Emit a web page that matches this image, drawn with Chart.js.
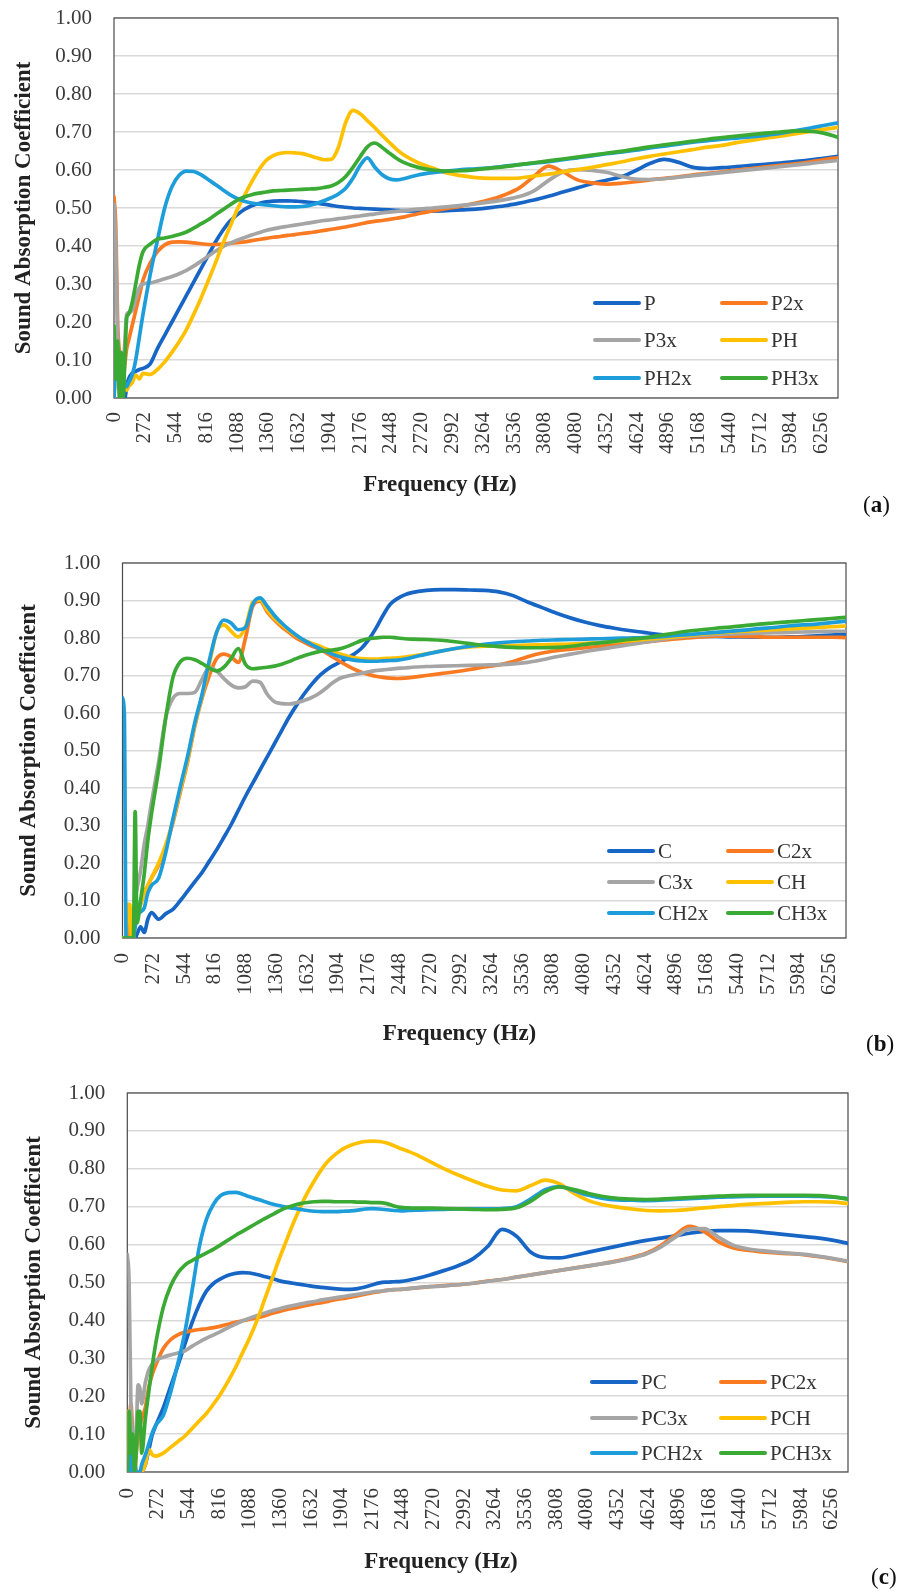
<!DOCTYPE html>
<html>
<head>
<meta charset="utf-8">
<script src="https://cdn.jsdelivr.net/npm/chart.js@4.4.1/dist/chart.umd.min.js"></script>
<style>
html,body{margin:0;padding:0;background:#fff;overflow:hidden;}
#page{position:relative;width:902px;height:1593px;overflow:hidden;background:#fff;}
#page canvas{position:absolute;left:0;}
.legend-item{position:absolute;height:24px;display:flex;align-items:center;font-family:"Liberation Serif","Times New Roman",serif;font-size:21px;color:#333;white-space:nowrap;line-height:24px;}
.legend-line{display:inline-block;width:48px;height:4px;border-radius:2px;margin-right:3px;}
.panel{position:absolute;font-family:"Liberation Serif","Times New Roman",serif;font-size:23px;line-height:26px;color:#111;}
</style>
</head>
<body>
<div id="page"></div>
<script>
// ---------- shared axes ----------
const frequencies = [
  0,16,32,48,64,80,96,112,128,160,192,224,256,
  320,384,448,512,576,640,704,768,832,896,960,1024,1088,1152,1216,1280,1344,1408,
  1472,1536,1600,1664,1728,1792,1856,1920,1984,2048,2112,2176,2240,2304,2368,2432,2496,2560,
  2688,2816,2944,3072,3200,3328,3456,3584,3712,3840,3968,4096,4224,4352,4480,4608,4736,4864,4992,5120,5248,5376,5504,5632,5760,5888,6016,6144,6272,6400
];
const xTickLabels = [0,272,544,816,1088,1360,1632,1904,2176,2448,2720,2992,3264,3536,3808,4080,4352,4624,4896,5168,5440,5712,5984,6256];
const yTickLabels = [0,0.1,0.2,0.3,0.4,0.5,0.6,0.7,0.8,0.9,1.0];

// ---------- panel (a) ----------
const namesA = ['P','P2x','P3x','PH','PH2x','PH3x'];
const P = [
  0,0.10,0.12,0.05,0.02,0.0,0.0,0.03,0.05,0.065,0.07,0.075,0.078,
  0.09,0.13,0.165,0.20,0.235,0.27,0.305,0.34,0.375,0.41,0.44,0.465,0.482,0.496,0.506,0.512,0.516,0.518,
  0.519,0.519,0.518,0.517,0.515,0.513,0.51,0.507,0.504,0.502,0.5,0.499,0.498,0.497,0.496,0.495,0.494,0.493,
  0.492,0.492,0.493,0.495,0.497,0.501,0.506,0.513,0.521,0.531,0.542,0.553,0.564,0.573,0.582,0.598,0.617,0.628,0.62,0.607,0.604,0.606,0.609,0.612,0.615,0.618,0.622,0.626,0.631,0.636
];
const P2x = [
  0.53,0.45,0.20,0.12,0.06,0.05,0.09,0.13,0.15,0.19,0.23,0.27,0.31,
  0.355,0.385,0.403,0.41,0.411,0.41,0.408,0.406,0.404,0.404,0.405,0.407,0.409,0.411,0.414,0.417,0.42,0.423,
  0.425,0.428,0.43,0.433,0.435,0.438,0.441,0.444,0.447,0.45,0.454,0.458,0.462,0.465,0.467,0.47,0.473,0.476,
  0.485,0.492,0.499,0.505,0.513,0.522,0.535,0.553,0.583,0.61,0.595,0.574,0.566,0.563,0.565,0.569,0.574,0.578,0.582,0.587,0.591,0.595,0.6,0.604,0.608,0.612,0.616,0.621,0.627,0.632
];
const P3x = [
  0.51,0.40,0.15,0.03,0.0,0.06,0.15,0.22,0.225,0.23,0.26,0.29,0.30,
  0.303,0.308,0.314,0.32,0.327,0.336,0.347,0.36,0.373,0.386,0.398,0.407,0.415,0.422,0.429,0.435,0.441,0.445,
  0.449,0.452,0.455,0.458,0.461,0.464,0.467,0.469,0.472,0.474,0.477,0.479,0.482,0.484,0.487,0.489,0.491,0.493,
  0.497,0.50,0.503,0.507,0.511,0.516,0.522,0.53,0.545,0.572,0.595,0.601,0.599,0.594,0.584,0.576,0.575,0.577,0.581,0.585,0.589,0.593,0.597,0.601,0.605,0.609,0.613,0.617,0.621,0.625
];
const PH = [
  0.0,0.12,0.10,0.03,0.0,0.02,0.03,0.02,0.03,0.04,0.06,0.05,0.065,
  0.062,0.075,0.095,0.12,0.148,0.18,0.22,0.262,0.308,0.355,0.405,0.45,0.495,0.532,0.568,0.6,0.625,0.638,
  0.644,0.646,0.645,0.643,0.638,0.632,0.627,0.628,0.66,0.725,0.757,0.748,0.73,0.712,0.692,0.673,0.655,0.64,
  0.619,0.605,0.592,0.585,0.58,0.578,0.578,0.579,0.584,0.589,0.595,0.601,0.607,0.614,0.621,0.629,0.636,0.642,0.648,0.654,0.66,0.665,0.672,0.678,0.684,0.689,0.695,0.701,0.707,0.712
];
const PH2x = [
  0.0,0.13,0.10,0.03,0.0,0.02,0.04,0.03,0.04,0.06,0.10,0.16,0.22,
  0.325,0.415,0.50,0.556,0.586,0.597,0.596,0.588,0.575,0.562,0.548,0.535,0.525,0.518,0.513,0.51,0.508,0.506,
  0.504,0.503,0.503,0.504,0.507,0.512,0.519,0.527,0.537,0.552,0.578,0.612,0.632,0.608,0.588,0.577,0.574,0.577,
  0.587,0.593,0.597,0.601,0.603,0.606,0.61,0.614,0.618,0.622,0.627,0.632,0.637,0.643,0.647,0.652,0.658,0.663,0.668,0.673,0.677,0.681,0.684,0.687,0.691,0.696,0.703,0.71,0.717,0.724
];
const PH3x = [
  0.19,0.05,0.15,0.0,0.12,0.0,0.10,0.21,0.22,0.25,0.30,0.35,0.385,
  0.405,0.418,0.421,0.425,0.43,0.437,0.447,0.458,0.469,0.482,0.495,0.508,0.52,0.529,0.535,0.539,0.542,0.545,
  0.546,0.547,0.548,0.549,0.55,0.551,0.554,0.558,0.567,0.583,0.607,0.635,0.661,0.671,0.66,0.645,0.631,0.62,
  0.607,0.6,0.597,0.598,0.601,0.605,0.609,0.614,0.619,0.624,0.629,0.634,0.639,0.644,0.649,0.655,0.661,0.666,0.671,0.676,0.681,0.685,0.689,0.693,0.697,0.7,0.703,0.702,0.697,0.686
];

// ---------- panel (b) ----------
const namesB = ['C','C2x','C3x','CH','CH2x','CH3x'];
const C = [
  0.0,0.0,0.0,0.0,0.0,0.0,0.0,0.0,0.01,0.03,0.015,0.05,0.068,
  0.05,0.065,0.077,0.10,0.125,0.15,0.175,0.205,0.235,0.268,0.302,0.34,0.378,0.413,0.448,0.483,0.518,0.553,
  0.588,0.619,0.648,0.673,0.695,0.712,0.725,0.735,0.745,0.757,0.772,0.795,0.825,0.86,0.89,0.905,0.915,0.921,
  0.927,0.929,0.929,0.928,0.927,0.923,0.913,0.896,0.881,0.866,0.853,0.842,0.833,0.826,0.82,0.815,0.81,0.807,0.805,0.804,0.804,0.803,0.803,0.802,0.802,0.803,0.804,0.806,0.808,0.81
];
const C2x = [
  0.0,0.0,0.0,0.0,0.05,0.0,0.0,0.04,0.06,0.09,0.12,0.14,0.16,
  0.195,0.245,0.31,0.39,0.47,0.565,0.64,0.70,0.745,0.757,0.75,0.735,0.80,0.885,0.898,0.87,0.848,0.83,
  0.815,0.80,0.79,0.78,0.772,0.762,0.75,0.738,0.727,0.717,0.709,0.703,0.698,0.695,0.693,0.692,0.693,0.695,
  0.70,0.705,0.71,0.716,0.723,0.728,0.737,0.75,0.76,0.766,0.77,0.774,0.778,0.781,0.785,0.789,0.793,0.797,0.80,0.803,0.805,0.805,0.804,0.803,0.802,0.802,0.802,0.802,0.802,0.801
];
const C3x = [
  0.0,0.0,0.0,0.0,0.0,0.0,0.05,0.10,0.13,0.18,0.25,0.30,0.36,
  0.47,0.59,0.64,0.652,0.652,0.655,0.69,0.722,0.712,0.692,0.675,0.667,0.67,0.685,0.682,0.65,0.63,0.625,
  0.624,0.627,0.633,0.64,0.65,0.664,0.68,0.692,0.698,0.702,0.706,0.71,0.713,0.715,0.717,0.719,0.72,0.722,
  0.724,0.725,0.726,0.727,0.728,0.729,0.731,0.735,0.742,0.75,0.757,0.764,0.77,0.776,0.782,0.788,0.794,0.80,0.804,0.807,0.809,0.811,0.812,0.813,0.814,0.815,0.816,0.817,0.818,0.818
];
const CH = [
  0.0,0.0,0.0,0.09,0.09,0.0,0.0,0.04,0.05,0.09,0.12,0.14,0.16,
  0.20,0.25,0.315,0.395,0.475,0.57,0.645,0.73,0.815,0.835,0.818,0.803,0.83,0.895,0.902,0.875,0.852,0.835,
  0.82,0.806,0.795,0.787,0.78,0.772,0.765,0.758,0.752,0.747,0.745,0.744,0.744,0.745,0.746,0.747,0.749,0.752,
  0.758,0.765,0.772,0.776,0.778,0.779,0.78,0.781,0.782,0.783,0.784,0.786,0.788,0.79,0.793,0.796,0.799,0.802,0.806,0.81,0.813,0.816,0.818,0.82,0.822,0.824,0.826,0.828,0.83,0.832
];
const CH2x = [
  0.64,0.60,0.0,0.0,0.0,0.0,0.0,0.03,0.06,0.07,0.08,0.12,0.14,
  0.16,0.23,0.32,0.405,0.485,0.575,0.65,0.74,0.815,0.848,0.84,0.822,0.828,0.89,0.907,0.885,0.86,0.84,
  0.823,0.808,0.795,0.784,0.774,0.765,0.757,0.75,0.745,0.741,0.739,0.738,0.738,0.739,0.74,0.741,0.744,0.748,
  0.757,0.765,0.772,0.778,0.783,0.787,0.79,0.792,0.794,0.795,0.796,0.797,0.798,0.799,0.80,0.801,0.803,0.806,0.809,0.812,0.815,0.818,0.821,0.825,0.828,0.832,0.835,0.837,0.841,0.845
];
const CH3x = [
  0.0,0.0,0.0,0.0,0.0,0.0,0.0,0.337,0.04,0.10,0.17,0.26,0.33,
  0.45,0.59,0.697,0.737,0.746,0.742,0.732,0.72,0.712,0.722,0.745,0.772,0.73,0.718,0.72,0.722,0.725,0.73,
  0.737,0.745,0.752,0.758,0.763,0.766,0.768,0.771,0.777,0.785,0.793,0.798,0.80,0.802,0.802,0.80,0.798,0.797,
  0.796,0.794,0.79,0.785,0.78,0.777,0.775,0.774,0.774,0.775,0.778,0.783,0.787,0.791,0.796,0.80,0.806,0.812,0.818,0.822,0.826,0.829,0.833,0.837,0.84,0.843,0.846,0.849,0.852,0.855
];

// ---------- panel (c) ----------
const namesC = ['PC','PC2x','PC3x','PCH','PCH2x','PCH3x'];
const PC = [
  0.0,0.05,0.02,0.0,0.03,0.0,0.0,0.0,0.0,0.02,0.06,0.10,0.125,
  0.17,0.225,0.28,0.338,0.395,0.442,0.478,0.498,0.51,0.519,0.524,0.526,0.525,0.521,0.516,0.511,0.505,0.501,
  0.498,0.495,0.492,0.489,0.487,0.485,0.483,0.482,0.482,0.484,0.488,0.494,0.499,0.501,0.502,0.503,0.506,0.51,
  0.52,0.532,0.545,0.563,0.595,0.64,0.622,0.58,0.566,0.565,0.572,0.58,0.588,0.596,0.604,0.611,0.617,0.623,0.63,0.635,0.637,0.637,0.636,0.633,0.629,0.625,0.621,0.617,0.611,0.603
];
const PC2x = [
  0.0,0.10,0.18,0.10,0.0,0.05,0.10,0.12,0.14,0.17,0.225,0.26,0.285,
  0.326,0.349,0.362,0.369,0.373,0.376,0.378,0.381,0.385,0.39,0.395,0.399,0.403,0.407,0.412,0.418,0.423,0.428,
  0.432,0.436,0.44,0.444,0.447,0.451,0.455,0.458,0.461,0.465,0.469,0.473,0.476,0.479,0.481,0.482,0.484,0.486,
  0.489,0.492,0.494,0.498,0.504,0.508,0.514,0.52,0.526,0.532,0.538,0.544,0.55,0.557,0.566,0.577,0.597,0.625,0.648,0.635,0.608,0.592,0.585,0.581,0.578,0.576,0.573,0.568,0.562,0.555
];
const PC3x = [
  0.574,0.50,0.18,0.10,0.08,0.12,0.23,0.22,0.18,0.235,0.27,0.285,0.295,
  0.303,0.309,0.314,0.32,0.332,0.343,0.353,0.362,0.371,0.381,0.39,0.399,0.406,0.413,0.419,0.425,0.43,0.435,
  0.439,0.443,0.447,0.45,0.454,0.457,0.46,0.463,0.466,0.469,0.472,0.475,0.477,0.479,0.481,0.482,0.484,0.486,
  0.489,0.491,0.494,0.498,0.503,0.508,0.514,0.52,0.526,0.532,0.538,0.544,0.55,0.556,0.564,0.575,0.593,0.619,0.641,0.642,0.62,0.599,0.589,0.584,0.58,0.577,0.574,0.569,0.563,0.556
];
const PCH = [
  0.16,0.05,0.0,0.0,0.0,0.0,0.0,0.0,0.0,0.02,0.06,0.045,0.042,
  0.05,0.065,0.08,0.095,0.115,0.135,0.155,0.18,0.208,0.24,0.275,0.315,0.355,0.4,0.452,0.505,0.558,0.607,
  0.655,0.698,0.737,0.77,0.80,0.823,0.84,0.853,0.862,0.868,0.872,0.873,0.872,0.868,0.861,0.853,0.846,0.838,
  0.819,0.80,0.783,0.768,0.754,0.744,0.742,0.756,0.77,0.76,0.735,0.716,0.705,0.699,0.694,0.69,0.689,0.69,0.693,0.697,0.70,0.703,0.706,0.708,0.71,0.712,0.713,0.713,0.712,0.708
];
const PCH2x = [
  0.0,0.0,0.05,0.0,0.0,0.0,0.0,0.0,0.02,0.045,0.075,0.105,0.125,
  0.15,0.21,0.285,0.37,0.48,0.595,0.668,0.708,0.73,0.737,0.738,0.733,0.726,0.72,0.714,0.708,0.703,0.699,
  0.696,0.693,0.69,0.688,0.687,0.687,0.687,0.688,0.689,0.691,0.694,0.695,0.694,0.692,0.69,0.689,0.69,0.691,
  0.692,0.693,0.694,0.694,0.694,0.695,0.70,0.721,0.745,0.753,0.742,0.73,0.722,0.718,0.717,0.716,0.717,0.719,0.721,0.723,0.725,0.726,0.727,0.728,0.728,0.728,0.728,0.727,0.725,0.721
];
const PCH3x = [
  0.0,0.16,0.05,0.10,0.0,0.06,0.16,0.16,0.05,0.14,0.215,0.285,0.345,
  0.435,0.49,0.525,0.546,0.558,0.568,0.578,0.588,0.60,0.612,0.624,0.635,0.646,0.657,0.668,0.678,0.688,0.697,
  0.703,0.708,0.711,0.713,0.714,0.714,0.713,0.713,0.713,0.712,0.712,0.711,0.711,0.708,0.702,0.698,0.697,0.696,
  0.696,0.695,0.694,0.693,0.692,0.693,0.697,0.715,0.74,0.752,0.745,0.735,0.727,0.722,0.72,0.719,0.72,0.722,0.724,0.726,0.728,0.729,0.73,0.73,0.73,0.73,0.73,0.729,0.726,0.72
];

// ---------- styling / layout ----------
const FONT = '"Liberation Serif", "Times New Roman", serif';
const TICK_COLOR = '#3a3a3a';
const TITLE_COLOR = '#222222';
const COLORS = ['#1766C6', '#FA7A22', '#A5A5A5', '#FFC000', '#1E9DDB', '#3BAA35'];

const panels = [
  {names: namesA, series: [P, P2x, P3x, PH, PH2x, PH3x], label: 'a',
   top: 0, height: 525, plotL: 114, plotR: 838, plotT: 18, plotB: 398,
   titleCX: 440, titleCY: 485, yTitleCX: 24, tickPad: 14,
   legendRows: [303, 340, 378], legendCols: [593, 720], panelX: 863, panelY: 505},
  {names: namesB, series: [C, C2x, C3x, CH, CH2x, CH3x], label: 'b',
   top: 525, height: 525, plotL: 122.5, plotR: 846, plotT: 563, plotB: 938,
   titleCX: 459.5, titleCY: 1034, yTitleCX: 29, tickPad: 15,
   legendRows: [851, 882, 913], legendCols: [607, 726], panelX: 866, panelY: 1044},
  {names: namesC, series: [PC, PC2x, PC3x, PCH, PCH2x, PCH3x], label: 'c',
   top: 1050, height: 543, plotL: 127.3, plotR: 848, plotT: 1093, plotB: 1472,
   titleCX: 441, titleCY: 1562, yTitleCX: 34, tickPad: 16,
   legendRows: [1382, 1418, 1453], legendCols: [590, 719], panelX: 871, panelY: 1577}
];

panels.forEach(p => p.series.forEach((s, i) => {
  if (s.length !== frequencies.length) throw new Error('length mismatch ' + p.names[i] + ' ' + s.length);
}));

const plotBorder = {
  id: 'plotBorder',
  beforeDatasetsDraw(chart) {
    const {ctx, chartArea: a} = chart;
    ctx.save();
    ctx.strokeStyle = '#4a4a4a';
    ctx.lineWidth = 1.2;
    ctx.strokeRect(a.left, a.top, a.right - a.left, a.bottom - a.top);
    ctx.restore();
  }
};

const page = document.getElementById('page');

panels.forEach(p => {
  const W = Math.round(2 * p.titleCX);
  const canvas = document.createElement('canvas');
  canvas.width = W;
  canvas.height = p.height;
  canvas.style.top = p.top + 'px';
  canvas.style.width = W + 'px';
  canvas.style.height = p.height + 'px';
  page.appendChild(canvas);

  const titleSize = 23;
  const LH = titleSize * 1.2;
  const pb = Math.max(0, (p.top + p.height) - p.titleCY - LH / 2);
  const xAxisH = (p.top + p.height - LH - pb) - p.plotB;

  const chart = new Chart(canvas, {
    type: 'line',
    data: {
      datasets: p.names.map((n, i) => ({
        label: n,
        data: frequencies.map((f, k) => ({x: f, y: p.series[i][k]})),
        borderColor: COLORS[i],
        backgroundColor: COLORS[i],
        borderWidth: 3.7,
        pointRadius: 0,
        pointHoverRadius: 0,
        fill: false,
        cubicInterpolationMode: 'monotone',
        borderCapStyle: 'round',
        borderJoinStyle: 'round',
        order: 5 - i
      }))
    },
    options: {
      responsive: false,
      animation: false,
      devicePixelRatio: 1,
      events: [],
      layout: {padding: {top: p.plotT - p.top, left: 0, right: 0, bottom: 0}},
      plugins: {
        legend: {display: false},
        tooltip: {enabled: false},
        title: {
          display: true, text: 'Frequency (Hz)', position: 'bottom', color: TITLE_COLOR,
          font: {family: FONT, size: titleSize, weight: 'bold', lineHeight: 1.2},
          padding: {top: 0, bottom: pb}
        }
      },
      scales: {
        x: {
          type: 'linear', min: 0, max: 6400,
          afterBuildTicks: ax => { ax.ticks = xTickLabels.map(v => ({value: v})); },
          afterFit: ax => { ax.height = xAxisH; ax.paddingLeft = 0; ax.paddingRight = 0; },
          grid: {display: false, drawTicks: false},
          border: {display: false},
          ticks: {autoSkip: false, minRotation: 90, maxRotation: 90, padding: p.tickPad,
                  color: TICK_COLOR, font: {family: FONT, size: 21}, callback: v => String(v)}
        },
        y: {
          min: 0, max: 1,
          afterBuildTicks: ax => { ax.ticks = yTickLabels.map(v => ({value: v})); },
          afterFit: ax => { ax.width = p.plotL; ax.paddingTop = 0; ax.paddingBottom = 0; },
          grid: {color: '#d9d9d9', lineWidth: 1.5, drawTicks: false},
          border: {display: false},
          ticks: {padding: 22, color: TICK_COLOR, font: {family: FONT, size: 21}, callback: v => Number(v).toFixed(2)},
          title: {display: true, text: 'Sound Absorption Coefficient', color: TITLE_COLOR,
                  font: {family: FONT, size: titleSize, weight: 'bold', lineHeight: 1.2},
                  padding: {top: p.yTitleCX - LH / 2, bottom: 0}}
        },
        yRight: {
          position: 'right', display: true, min: 0, max: 1,
          afterFit: ax => { ax.width = W - p.plotR; ax.paddingTop = 0; ax.paddingBottom = 0; },
          grid: {display: false, drawTicks: false},
          border: {display: false},
          ticks: {display: false}
        }
      }
    },
    plugins: [plotBorder]
  });

  // legend built from the chart's datasets (2 columns x 3 rows, inside the plot)
  chart.data.datasets.forEach((ds, i) => {
    const row = Math.floor(i / 2), col = i % 2;
    const item = document.createElement('div');
    item.className = 'legend-item';
    item.style.left = p.legendCols[col] + 'px';
    item.style.top = (p.legendRows[row] - 12) + 'px';
    const line = document.createElement('span');
    line.className = 'legend-line';
    line.style.background = ds.borderColor;
    const txt = document.createElement('span');
    txt.textContent = ds.label;
    item.appendChild(line);
    item.appendChild(txt);
    page.appendChild(item);
  });

  const lab = document.createElement('div');
  lab.className = 'panel';
  lab.style.left = p.panelX + 'px';
  lab.style.top = (p.panelY - 13) + 'px';
  lab.innerHTML = '(<b>' + p.label + '</b>)';
  page.appendChild(lab);
});
</script>
</body>
</html>
